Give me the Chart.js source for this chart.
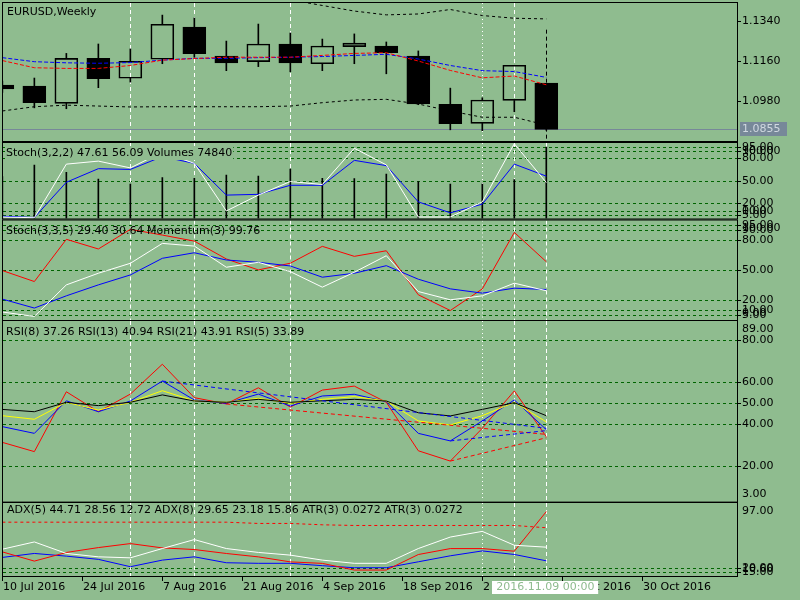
<!DOCTYPE html>
<html>
<head>
<meta charset="utf-8">
<script src="https://cdn.jsdelivr.net/npm/chart.js@4.4.1/dist/chart.umd.min.js"></script>
<style>
  html, body { margin: 0; padding: 0; background: #8fbc8f; }
  #wrap { position: relative; width: 800px; height: 600px; overflow: hidden; }
  #wrap canvas { position: absolute; left: 0; top: 0; }
</style>
</head>
<body>
<div id="wrap">
  <canvas id="cMain" width="800" height="600"></canvas>
  <canvas id="cFast" width="800" height="600"></canvas>
  <canvas id="cSlow" width="800" height="600"></canvas>
  <canvas id="cRsi" width="800" height="600"></canvas>
  <canvas id="cAdx" width="800" height="600"></canvas>
</div>
<script>
// weekly bars, index 0..17
const barIndex = [0, 1, 2, 3, 4, 5, 6, 7, 8, 9, 10, 11, 12, 13, 14, 15, 16, 17];

// EURUSD weekly candles
const openP  = [1.1053, 1.1048, 1.0971, 1.1172, 1.1083, 1.1168, 1.1312, 1.1182, 1.1157, 1.1236, 1.1148, 1.1224, 1.1227, 1.1182, 1.0967, 1.0882, 1.0984, 1.1062];
const highP  = [1.1070, 1.1084, 1.1194, 1.1236, 1.1214, 1.1365, 1.1352, 1.1249, 1.1325, 1.1285, 1.1258, 1.1281, 1.1245, 1.1205, 1.1039, 1.0996, 1.1141, 1.1300];
const lowP   = [1.1020, 1.0951, 1.0947, 1.1041, 1.1066, 1.1148, 1.1177, 1.1117, 1.1135, 1.1112, 1.1117, 1.1148, 1.1103, 1.0965, 1.0853, 1.0849, 1.0934, 1.0851];
const closeP = [1.1035, 1.0974, 1.1172, 1.1081, 1.1159, 1.1324, 1.1193, 1.1152, 1.1236, 1.1152, 1.1227, 1.1240, 1.1197, 1.0969, 1.0880, 1.0986, 1.1141, 1.0855];

// moving averages and channel on the price chart
const maRed   = [1.1162, 1.1130, 1.1127, 1.1127, 1.1140, 1.1164, 1.1171, 1.1177, 1.1177, 1.1177, 1.1185, 1.1194, 1.1197, 1.1160, 1.1118, 1.1085, 1.1093, 1.1054];
const maBlue  = [1.1175, 1.1157, 1.1152, 1.1150, 1.1153, 1.1164, 1.1172, 1.1172, 1.1175, 1.1177, 1.1180, 1.1185, 1.1190, 1.1169, 1.1140, 1.1117, 1.1113, 1.1087];
const bandUp  = [1.1450, 1.1450, 1.1450, 1.1450, 1.1450, 1.1445, 1.1445, 1.1445, 1.1445, 1.1433, 1.1408, 1.1383, 1.1366, 1.1370, 1.1390, 1.1363, 1.1351, 1.1348];
const bandLow = [1.0937, 1.0956, 1.0963, 1.0959, 1.0955, 1.0956, 1.0956, 1.0956, 1.0956, 1.0959, 1.0974, 1.0986, 1.0989, 1.0968, 1.0937, 1.0909, 1.0909, 1.0874];
const priceTicks = [1.1340, 1.1160, 1.0980];
const lastPrice = 1.0855;

// Stoch(3,2,2) + Volumes
const fastMain   = [2, 1, 72, 76, 67, 88, 73, 10, 31, 49, 45, 93, 71, 2, 2, 22, 99, 47.61];
const fastSignal = [3, 1.3, 48, 66, 65, 82, 73, 31, 32, 44, 44, 77, 70, 22, 7.5, 19, 72, 56.09];
const volumes    = [44000, 56000, 48360, 41350, 36110, 42710, 42080, 45530, 44490, 51810, 42080, 41660, 46580, 38520, 36110, 36110, 40610, 74840];

// Stoch(3,3,5) + Momentum(3)
const slowMain   = [8, 3.6, 35.3, 47, 57, 77, 74.3, 53, 58, 48.6, 33, 48, 64.6, 28.6, 20.3, 24.3, 37, 29.40];
const slowSignal = [21, 12, 24.3, 35.3, 45.3, 62, 67.6, 60.3, 58, 54.3, 43, 47, 54.6, 41, 31.3, 27, 32, 30.64];
const momentum   = [99.22, 98.55, 101.13, 100.54, 101.74, 101.39, 101.02, 99.93, 99.26, 99.67, 100.70, 100.09, 100.43, 97.74, 96.78, 98.10, 101.55, 99.76];

// RSI panel
const rsi5  = [31.2, 26.8, 55.3, 45.8, 54.2, 68.4, 52.5, 49.5, 57.2, 48.0, 56.1, 58.0, 50.3, 27.2, 22.3, 37.9, 55.7, 33.89];
const rsi8  = [38.7, 35.5, 51.0, 45.8, 50.9, 60.4, 51.4, 49.8, 54.2, 48.5, 53.3, 54.1, 50.6, 35.5, 31.9, 41.4, 51.4, 37.26];
const rsi13 = [43.9, 42.2, 50.3, 46.6, 50.3, 55.8, 51.0, 50.3, 52.2, 49.8, 51.7, 53.0, 50.9, 41.4, 39.5, 43.9, 50.3, 40.94];
const rsi21 = [46.9, 45.8, 50.3, 48.7, 50.3, 53.8, 50.9, 50.3, 51.7, 50.3, 51.0, 51.7, 50.9, 45.3, 43.8, 46.9, 50.1, 43.91];
const rsiTrendBlueA = [null, null, null, null, null, 60.4, null, null, null, null, null, null, null, null, null, null, null, 37.9];
const rsiTrendBlueB = [null, null, null, null, null, null, null, null, null, null, null, null, null, null, 31.9, null, null, 36.8];
const rsiTrendRedA  = [null, null, null, null, null, null, null, 49.5, null, null, null, null, null, null, null, null, null, 35.0];
const rsiTrendRedB  = [null, null, null, null, null, null, null, null, null, null, null, null, null, null, 22.3, null, null, 33.4];

// ADX / ATR panel
const adx5    = [42.3, 50.9, 37.3, 33.3, 32.1, 43.1, 53.7, 43.1, 38.5, 35.3, 29.4, 25.6, 25.6, 43.1, 56.7, 63.4, 47.0, 44.71];
const plusDi5 = [32.6, 37.3, 34.1, 30.3, 21.6, 29.4, 33.3, 26.3, 25.6, 25.6, 22.8, 20.4, 20.4, 27.4, 34.5, 40.3, 36.1, 28.56];
const atr3    = [0.01784, 0.0157, 0.01771, 0.01884, 0.01977, 0.01877, 0.01839, 0.01747, 0.01668, 0.01552, 0.01517, 0.01362, 0.01362, 0.01723, 0.01861, 0.01861, 0.0180, 0.0272];
const atrSlow = [74.3, 74.3, 74.3, 74.3, 74.3, 74.3, 74.3, 74.3, 72.8, 72.8, 71.2, 70.4, 70.4, 70.4, 70.4, 70.4, 70.4, 67.7];

// time axis
const timeTickPos = [0, 2.5, 5, 7.5, 10, 12.5, 15, 17.5, 20];
const timeLabels = ['10 Jul 2016', '24 Jul 2016', '7 Aug 2016', '21 Aug 2016', '4 Sep 2016', '18 Sep 2016', '2 Oct 2016', '16 Oct 2016', '30 Oct 2016'];
const cursorLabel = '2016.11.09 00:00';
const sepBars = [4, 6, 9, 16];
const dotBars = [15];
const cursorBar = 17;

const BG = '#8fbc8f';
const GRID = '#006400';
const FONT = '11px "DejaVu Sans"';
Chart.defaults.font.family = '"DejaVu Sans"';
Chart.defaults.font.size = 11;

const plotLeft = 3, plotRight = 737;
const xMin = 0.02, xMax = 22.96;

const pts = arr => arr.map((v, i) => ({ x: barIndex[i], y: v }));

function line(data, color, extra) {
    return Object.assign({
        type: 'line', data: pts(data), borderColor: color, borderWidth: 1,
        pointRadius: 0, fill: false, tension: 0, spanGaps: true, order: 0,
    }, extra || {});
}

// draws levels, separators, frame, axis text
const decoPlugin = {
    id: 'deco',
    beforeDatasetsDraw(chart, args, o) {
        const { ctx, chartArea: a } = chart;
        const xs = chart.scales.x, ys = chart.scales.y;
        ctx.save();
        ctx.beginPath();
        ctx.rect(a.left, a.top, a.right - a.left, a.bottom - a.top);
        ctx.clip();
        ctx.lineWidth = 1;
        ctx.strokeStyle = GRID;
        ctx.setLineDash([3, 3]);
        (o.levels || []).forEach((v) => {
            const py = Math.round(ys.getPixelForValue(v)) + 0.5;
            ctx.beginPath();
            ctx.moveTo(a.left, py);
            ctx.lineTo(a.right, py);
            ctx.stroke();
        });
        const vline = (b, dash, color, top) => {
            const px = Math.round(xs.getPixelForValue(b)) + 0.5;
            ctx.strokeStyle = color;
            ctx.setLineDash(dash);
            ctx.beginPath();
            ctx.moveTo(px, top);
            ctx.lineTo(px, a.bottom);
            ctx.stroke();
        };
        sepBars.forEach((b) => vline(b, [4, 3], '#ffffff', a.top));
        dotBars.forEach((b) => vline(b, [1, 3], '#ffffff', a.top));
        if (o.main) {
            vline(cursorBar, [4, 3], '#000000', ys.getPixelForValue(highP[cursorBar]));
            // bid line
            const py = Math.round(ys.getPixelForValue(lastPrice)) + 0.5;
            ctx.setLineDash([]);
            ctx.strokeStyle = '#778899';
            ctx.beginPath();
            ctx.moveTo(a.left, py);
            ctx.lineTo(a.right, py);
            ctx.stroke();
        } else {
            vline(cursorBar, [4, 3], '#ffffff', a.top);
        }
        ctx.restore();
    },
    afterDatasetsDraw(chart, args, o) {
        if (!o.title) return;
        const { ctx, chartArea: a } = chart;
        ctx.save();
        ctx.font = FONT;
        ctx.textBaseline = 'middle';
        ctx.textAlign = 'left';
        const tx = a.left + o.titleDx, ty = a.top + o.titleDy;
        if (o.titleBg) {
            const w = ctx.measureText(o.title).width;
            ctx.fillStyle = BG;
            ctx.fillRect(tx - 1, ty - 7, w + 2, 14);
        }
        ctx.fillStyle = '#000000';
        ctx.fillText(o.title, tx, ty);
        ctx.restore();
    },
    afterDraw(chart, args, o) {
        const { ctx, chartArea: a } = chart;
        const xs = chart.scales.x, ys = chart.scales.y;
        ctx.save();
        ctx.lineWidth = 1;
        ctx.setLineDash([]);
        ctx.strokeStyle = '#000000';
        ctx.strokeRect(a.left - 0.5, a.top - 0.5, a.right - a.left + 1, a.bottom - a.top + 1);

        ctx.font = FONT;
        ctx.textBaseline = 'middle';
        ctx.textAlign = 'left';
        ctx.fillStyle = '#000000';
        (o.axisTicks || []).forEach((v) => {
            const py = Math.round(ys.getPixelForValue(v)) + 0.5;
            ctx.beginPath();
            ctx.moveTo(a.right, py);
            ctx.lineTo(a.right + 4, py);
            ctx.stroke();
            ctx.fillText(v.toFixed(o.digits), a.right + 5, py);
        });
        if (o.edgeLabels) {
            ctx.fillText(ys.max.toFixed(2), a.right + 5, a.top + 8);
            ctx.fillText(ys.min.toFixed(2), a.right + 5, a.bottom - 7);
        }
        if (o.main) {
            const py = Math.round(ys.getPixelForValue(lastPrice));
            ctx.fillStyle = '#778899';
            ctx.fillRect(a.right + 3, py - 7, 47, 14);
            ctx.fillStyle = '#d0d8e0';
            ctx.fillText(lastPrice.toFixed(4), a.right + 5, py);
        }
        if (o.timeAxis) {
            ctx.fillStyle = '#000000';
            timeTickPos.forEach((p, i) => {
                const px = Math.round(xs.getPixelForValue(p)) + 0.5;
                ctx.beginPath();
                ctx.moveTo(px, a.bottom);
                ctx.lineTo(px, a.bottom + 5);
                ctx.stroke();
                ctx.fillText(timeLabels[i], px + 0.5, a.bottom + 11);
            });
            const cx = xs.getPixelForValue(cursorBar);
            const w = ctx.measureText(cursorLabel).width + 8;
            ctx.fillStyle = '#ffffff';
            ctx.fillRect(Math.round(cx - w / 2) - 1, a.bottom + 5, w, 13);
            ctx.fillStyle = BG;
            ctx.textAlign = 'center';
            ctx.fillText(cursorLabel, cx - 1, a.bottom + 11.5);
        }
        ctx.restore();
    },
};

function makeChart(id, top, bottom, datasets, yScales, deco) {
    return new Chart(document.getElementById(id), {
        type: 'line',
        data: { datasets: datasets },
        options: {
            responsive: false,
            animation: false,
            events: [],
            layout: { autoPadding: false, padding: { left: plotLeft, right: 800 - plotRight, top: top, bottom: 600 - bottom } },
            scales: Object.assign({ x: { type: 'linear', display: false, min: xMin, max: xMax, offset: false } }, yScales),
            plugins: { legend: { display: false }, tooltip: { enabled: false }, deco: deco },
        },
        plugins: [decoPlugin],
    });
}

// Chart harga (candles)
const bodyData = barIndex.map((i) => ({ x: i, y: [openP[i], closeP[i]] }));
const upperWick = barIndex.map((i) => ({ x: i, y: [Math.max(openP[i], closeP[i]), highP[i]] }));
const lowerWick = barIndex.map((i) => ({ x: i, y: [lowP[i], Math.min(openP[i], closeP[i])] }));

makeChart('cMain', 3, 141, [
    line(maRed, '#ff0000', { borderDash: [4, 2] }),
    line(maBlue, '#0000ff', { borderDash: [4, 2] }),
    line(bandUp, '#000000', { borderDash: [3, 3] }),
    line(bandLow, '#000000', { borderDash: [3, 3] }),
    {
        type: 'bar', data: bodyData, barThickness: 23, grouped: false, order: 1,
        borderColor: '#000000', borderWidth: 1, borderSkipped: false,
        backgroundColor: (c) => (closeP[c.dataIndex] >= openP[c.dataIndex] ? 'rgba(0,0,0,0)' : '#000000'),
    },
    {
        type: 'bar', data: upperWick, barThickness: 1, grouped: false, order: 2, borderWidth: 0,
        backgroundColor: (c) => (c.dataIndex === cursorBar ? 'rgba(0,0,0,0)' : '#000000'),
    },
    { type: 'bar', data: lowerWick, barThickness: 1, grouped: false, order: 2, borderWidth: 0, backgroundColor: '#000000' },
], {
    y: { display: false, min: 1.0803, max: 1.1419 },
}, { main: true, title: 'EURUSD,Weekly', titleDx: 4, titleDy: 9, axisTicks: priceTicks, digits: 4 });

// Stoch(3,2,2) + Volumes
makeChart('cFast', 143, 218.5, [
    line(fastMain, '#ffffff'),
    line(fastSignal, '#0000ff'),
    { type: 'bar', data: pts(volumes), yAxisID: 'yv', barThickness: 1, grouped: false, order: 3, borderWidth: 0, backgroundColor: '#000000' },
], {
    y: { display: false, min: 0, max: 100 },
    yv: { display: false, min: 0, max: 79030 },
}, {
    title: 'Stoch(3,2,2) 47.61 56.09 Volumes 74840', titleDx: 3, titleDy: 10, titleBg: true,
    levels: [95, 90, 80, 50, 20, 10, 5], axisTicks: [95, 90, 80, 50, 20, 10, 5], digits: 2, edgeLabels: true,
});

// Stoch(3,3,5) + Momentum(3)
makeChart('cSlow', 220.5, 320, [
    line(slowMain, '#ffffff'),
    line(slowSignal, '#0000ff'),
    line(momentum, '#ff0000', { yAxisID: 'ym' }),
], {
    y: { display: false, min: 0, max: 100 },
    ym: { display: false, min: 96.2, max: 102.28 },
}, {
    title: 'Stoch(3,3,5) 29.40 30.64 Momentum(3) 99.76', titleDx: 3, titleDy: 11,
    levels: [95, 90, 80, 50, 20, 10, 5], axisTicks: [95, 90, 80, 50, 20, 10, 5], digits: 2, edgeLabels: true,
});

// RSI
makeChart('cRsi', 321, 501.6, [
    line(rsiTrendBlueA, '#0000ff', { borderDash: [4, 3] }),
    line(rsiTrendBlueB, '#0000ff', { borderDash: [4, 3] }),
    line(rsiTrendRedA, '#ff0000', { borderDash: [4, 3] }),
    line(rsiTrendRedB, '#ff0000', { borderDash: [4, 3] }),
    line(rsi21, '#000000'),
    line(rsi13, '#ffff00'),
    line(rsi8, '#0000ff'),
    line(rsi5, '#ff0000'),
], {
    y: { display: false, min: 3, max: 89 },
}, {
    title: 'RSI(8) 37.26 RSI(13) 40.94 RSI(21) 43.91 RSI(5) 33.89', titleDx: 3, titleDy: 11,
    levels: [80, 60, 50, 40, 20], axisTicks: [80, 60, 50, 40, 20], digits: 2, edgeLabels: true,
});

// ADX / ATR
makeChart('cAdx', 503, 576, [
    line(atrSlow, '#ff0000', { borderDash: [3, 3] }),
    line(adx5, '#ffffff'),
    line(atr3, '#ff0000', { yAxisID: 'ya' }),
    line(plusDi5, '#0000ff'),
], {
    y: { display: false, min: 10.6, max: 97 },
    ya: { display: false, min: 0.01224, max: 0.0292 },
}, {
    title: 'ADX(5) 44.71 28.56 12.72 ADX(8) 29.65 23.18 15.86 ATR(3) 0.0272 ATR(3) 0.0272', titleDx: 4, titleDy: 7,
    levels: [20, 15], axisTicks: [20, 15], digits: 2, edgeLabels: true, timeAxis: true,
});
</script>
</body>
</html>
